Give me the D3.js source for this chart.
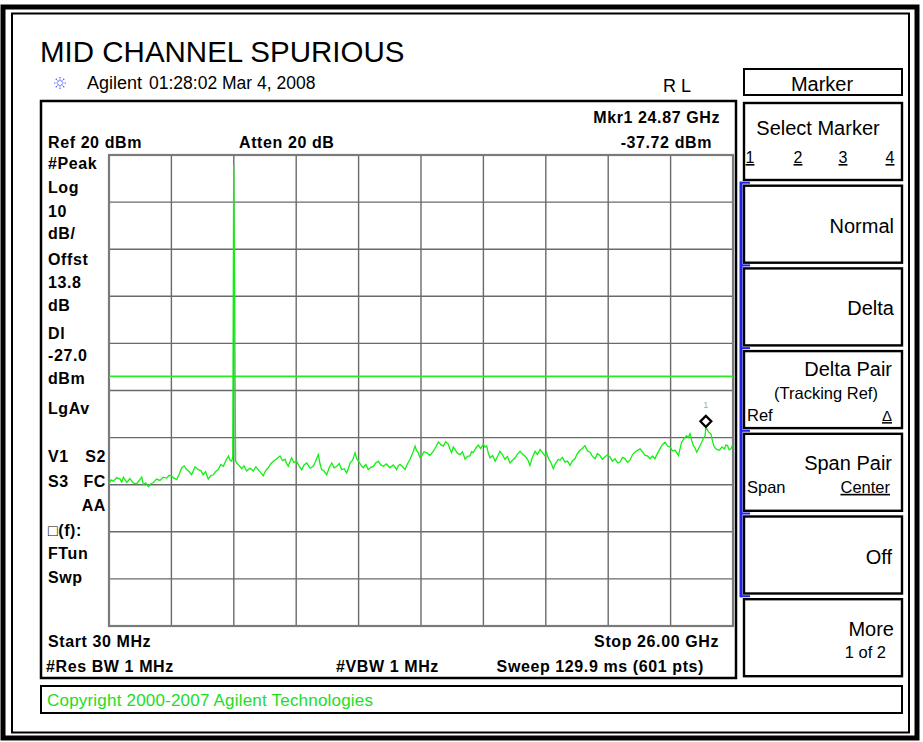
<!DOCTYPE html>
<html>
<head>
<meta charset="utf-8">
<script src="https://cdn.jsdelivr.net/npm/d3@7"></script>
<style>
  body { margin: 0; background: #fff; }
  svg { display: block; }
  text { font-family: "Liberation Sans", Arial, sans-serif; }
</style>
</head>
<body>
<div id="chart"></div>
<script>
// trace (GHz, dBm)
const traceFreqGHz = [
    0.03, 0.12, 0.21, 0.35, 0.49, 0.56, 0.63, 0.70, 0.77, 0.90,
    1.04, 1.18, 1.32, 1.39, 1.46, 1.56, 1.67, 1.77, 1.87, 2.01,
    2.15, 2.29, 2.43, 2.53, 2.64, 2.74, 2.85, 2.95, 3.06, 3.16,
    3.26, 3.36, 3.47, 3.61, 3.75, 3.85, 3.95, 4.05, 4.16, 4.26,
    4.37, 4.47, 4.58, 4.68, 4.79, 4.90, 5.00, 5.07, 5.14, 5.18,
    5.22, 5.26, 5.30, 5.34, 5.44, 5.55, 5.65, 5.76, 5.90, 6.04,
    6.14, 6.24, 6.35, 6.45, 6.55, 6.66, 6.76, 6.87, 7.01, 7.15,
    7.25, 7.36, 7.42, 7.49, 7.56, 7.63, 7.73, 7.84, 7.94, 8.05,
    8.15, 8.26, 8.40, 8.53, 8.63, 8.74, 8.81, 8.88, 8.98, 9.09,
    9.20, 9.30, 9.40, 9.51, 9.61, 9.71, 9.82, 9.92, 9.99, 10.06,
    10.17, 10.27, 10.34, 10.41, 10.51, 10.61, 10.72, 10.82, 10.92, 11.03,
    11.13, 11.24, 11.34, 11.45, 11.58, 11.72, 11.86, 12.00, 12.07, 12.14,
    12.25, 12.35, 12.45, 12.56, 12.66, 12.77, 12.83, 12.90, 12.97, 13.04,
    13.14, 13.25, 13.39, 13.53, 13.63, 13.74, 13.84, 13.94, 14.04, 14.15,
    14.22, 14.29, 14.36, 14.43, 14.53, 14.64, 14.74, 14.85, 14.95, 15.05,
    15.12, 15.19, 15.30, 15.40, 15.50, 15.61, 15.68, 15.75, 15.82, 15.89,
    16.00, 16.10, 16.20, 16.30, 16.40, 16.51, 16.61, 16.72, 16.82, 16.93,
    17.03, 17.14, 17.24, 17.34, 17.45, 17.55, 17.65, 17.76, 17.86, 17.97,
    18.07, 18.18, 18.24, 18.31, 18.42, 18.52, 18.62, 18.73, 18.80, 18.90,
    19.01, 19.11, 19.22, 19.32, 19.42, 19.52, 19.63, 19.73, 19.84, 19.94,
    20.05, 20.15, 20.26, 20.36, 20.46, 20.56, 20.67, 20.78, 20.88, 20.98,
    21.09, 21.20, 21.30, 21.40, 21.51, 21.61, 21.71, 21.82, 21.92, 22.02,
    22.13, 22.23, 22.34, 22.44, 22.55, 22.65, 22.75, 22.85, 22.96, 23.06,
    23.17, 23.28, 23.38, 23.48, 23.59, 23.66, 23.73, 23.80, 23.86, 23.96,
    24.07, 24.14, 24.21, 24.28, 24.35, 24.42, 24.49, 24.60, 24.70, 24.77,
    24.84, 24.87, 24.98, 25.08, 25.15, 25.22, 25.32, 25.43, 25.54, 25.64,
    25.70, 25.77, 25.84, 25.91, 25.96, 26.00];
const traceLevelDbm = [
    -49.8, -49.0, -49.3, -48.5, -48.8, -49.4, -48.4, -49.0, -49.5, -48.7,
    -49.6, -49.8, -48.9, -48.4, -50.0, -49.6, -50.4, -49.8, -49.6, -48.8,
    -49.1, -48.4, -48.6, -48.0, -48.2, -48.6, -48.9, -47.8, -46.4, -46.0,
    -46.8, -47.2, -47.9, -46.2, -46.8, -47.0, -47.9, -47.2, -48.8, -48.1,
    -47.9, -47.2, -46.8, -45.7, -46.1, -44.8, -43.9, -44.8, -45.0, -44.0,
    17.9, -11.2, -45.0, -45.4, -45.9, -46.6, -46.0, -47.1, -46.5, -47.1,
    -46.2, -46.8, -47.5, -48.1, -47.0, -46.4, -45.6, -45.0, -44.5, -43.9,
    -44.9, -44.6, -45.5, -46.1, -45.2, -44.3, -45.3, -45.0, -46.0, -46.8,
    -45.8, -45.4, -46.5, -46.1, -45.0, -43.6, -45.5, -46.8, -47.1, -47.9,
    -46.3, -45.4, -46.4, -46.1, -45.5, -46.8, -46.6, -47.5, -46.6, -45.4,
    -44.8, -43.2, -44.5, -45.0, -45.8, -46.4, -45.7, -46.8, -46.3, -46.1,
    -45.4, -45.0, -45.8, -46.1, -45.6, -46.4, -45.8, -46.8, -46.0, -45.7,
    -46.2, -46.8, -45.6, -44.6, -43.4, -41.8, -42.8, -43.2, -44.2, -43.9,
    -43.0, -43.2, -43.8, -42.9, -42.0, -40.9, -41.5, -41.8, -40.9, -41.4,
    -42.4, -43.2, -42.0, -42.5, -43.3, -43.6, -43.0, -44.6, -44.0, -43.9,
    -43.0, -43.2, -42.2, -41.6, -42.3, -41.4, -42.0, -41.8, -43.4, -44.3,
    -43.8, -45.0, -44.0, -42.9, -43.6, -44.6, -44.0, -45.4, -44.8, -44.3,
    -43.5, -42.9, -43.5, -43.9, -44.6, -45.9, -44.2, -42.9, -43.6, -42.5,
    -43.2, -43.9, -43.2, -44.3, -45.3, -46.6, -45.4, -44.6, -44.8, -44.2,
    -45.2, -45.0, -45.9, -44.9, -44.5, -43.4, -42.7, -42.3, -41.7, -42.8,
    -43.1, -44.0, -44.5, -43.4, -43.8, -44.6, -44.1, -43.6, -44.1, -45.0,
    -44.5, -45.4, -45.2, -44.2, -44.5, -45.3, -44.8, -43.6, -43.1, -42.7,
    -42.4, -43.0, -43.8, -43.9, -44.5, -43.9, -44.5, -43.4, -42.4, -41.5,
    -41.0, -41.8, -42.0, -42.8, -42.7, -43.2, -43.8, -42.3, -41.0, -40.2,
    -39.6, -40.0, -39.2, -40.6, -41.7, -42.2, -43.1, -42.0, -41.0, -40.1,
    -39.6, -37.72, -38.8, -39.2, -40.8, -42.0, -42.5, -42.7, -42.0, -42.4,
    -41.6, -41.7, -42.6, -42.4, -41.8, -42.0];

const startFreqGHz = 0.03;
const stopFreqGHz = 26.00;
const refLevelDbm = 20;
const dbPerDiv = 10;
const displayLineDbm = -27.0;
const markerFreqGHz = 24.87;
const markerLevelDbm = -37.72;

const leftLabels = ["#Peak", "Log", "10", "dB/", "Offst", "13.8", "dB", "Dl", "-27.0", "dBm", "LgAv"];
const leftLabelY = [169, 193, 217, 239, 265, 288, 311, 339, 361, 384, 414];
const statusRows = [["V1", "S2", 462], ["S3", "FC", 487], ["", "AA", 511]];
const lowerLabels = ["\u25A1(f):", "FTun", "Swp"];
const lowerLabelY = [536, 559, 583];

const softkeys = ["Select Marker", "Normal", "Delta", "Delta Pair", "Span Pair", "Off", "More"];

const W = 923, H = 742;
const svg = d3.select("#chart").append("svg").attr("width", W).attr("height", H);

// outer double frame
svg.append("rect").attr("x", 3).attr("y", 7).attr("width", 914).attr("height", 731)
    .attr("fill", "none").attr("stroke", "#000").attr("stroke-width", 5);
svg.append("rect").attr("x", 12).attr("y", 13.5).attr("width", 897).attr("height", 719)
    .attr("fill", "none").attr("stroke", "#000").attr("stroke-width", 2);

// title + header
svg.append("text").attr("x", 40).attr("y", 62).attr("font-size", 29.5).text("MID CHANNEL SPURIOUS");

// little agilent spark
const spark = svg.append("g").attr("transform", "translate(60,83)");
d3.range(8).forEach(i => {
    let a = i * Math.PI / 4;
    spark.append("line").attr("x1", Math.cos(a) * 2).attr("y1", Math.sin(a) * 2)
        .attr("x2", Math.cos(a) * 6.5).attr("y2", Math.sin(a) * 6.5)
        .attr("stroke", "#5060ff").attr("stroke-width", 1.2).attr("stroke-dasharray", "1.5,1");
});
svg.append("text").attr("x", 87).attr("y", 89).attr("font-size", 18).text("Agilent");
svg.append("text").attr("x", 149).attr("y", 89).attr("font-size", 17.5).text("01:28:02  Mar 4, 2008");
svg.append("text").attr("x", 663).attr("y", 92).attr("font-size", 18).text("R L");

// plot panel
svg.append("rect").attr("x", 41).attr("y", 101).attr("width", 695).attr("height", 577)
    .attr("fill", "#fff").attr("stroke", "#000").attr("stroke-width", 2.5);

const x = d3.scaleLinear().domain([startFreqGHz, stopFreqGHz]).range([109, 733]);
const y = d3.scaleLinear().domain([refLevelDbm - 10 * dbPerDiv, refLevelDbm]).range([626, 155]);

const bold = (sel) => sel.attr("font-size", 16).attr("font-weight", "bold").attr("letter-spacing", 0.6);

bold(svg.append("text").attr("x", 48).attr("y", 148).text("Ref 20 dBm"));
bold(svg.append("text").attr("x", 239).attr("y", 148).text("Atten 20 dB"));
bold(svg.append("text").attr("x", 720).attr("y", 123).attr("text-anchor", "end").text("Mkr1  24.87 GHz"));
bold(svg.append("text").attr("x", 712).attr("y", 148).attr("text-anchor", "end").text("-37.72 dBm"));

leftLabels.forEach((t, i) => bold(svg.append("text").attr("x", 48).attr("y", leftLabelY[i]).text(t)));
statusRows.forEach(r => {
    bold(svg.append("text").attr("x", 48).attr("y", r[2]).text(r[0]));
    bold(svg.append("text").attr("x", 106).attr("y", r[2]).attr("text-anchor", "end").attr("letter-spacing", 0).text(r[1]));
});
lowerLabels.forEach((t, i) => bold(svg.append("text").attr("x", 48).attr("y", lowerLabelY[i]).text(t)));

// graticule, 10 x 10 divisions
const xDivs = d3.range(11).map(i => startFreqGHz + i * (stopFreqGHz - startFreqGHz) / 10);
const yDivs = d3.range(11).map(i => refLevelDbm - i * dbPerDiv);
const grid = svg.append("g");
grid.selectAll(".vx").data(xDivs).join("line")
    .attr("x1", d => x(d)).attr("x2", d => x(d)).attr("y1", y(refLevelDbm)).attr("y2", y(refLevelDbm - 100))
    .attr("stroke", "#6a6a6a").attr("stroke-width", 1.4);
grid.selectAll(".hy").data(yDivs).join("line")
    .attr("y1", d => y(d)).attr("y2", d => y(d)).attr("x1", x(startFreqGHz)).attr("x2", x(stopFreqGHz))
    .attr("stroke", "#6a6a6a").attr("stroke-width", 1.4);
grid.append("rect").attr("x", x(startFreqGHz)).attr("y", y(refLevelDbm))
    .attr("width", x(stopFreqGHz) - x(startFreqGHz)).attr("height", y(refLevelDbm - 100) - y(refLevelDbm))
    .attr("fill", "none").attr("stroke", "#7a7a7a").attr("stroke-width", 2.2);

// display line
svg.append("line").attr("x1", x(startFreqGHz)).attr("x2", x(stopFreqGHz))
    .attr("y1", y(displayLineDbm)).attr("y2", y(displayLineDbm))
    .attr("stroke", "#22ee22").attr("stroke-width", 1.6);

// trace
const trace = traceFreqGHz.map((f, i) => ({f: f, v: traceLevelDbm[i]}));
svg.append("path").datum(trace)
    .attr("d", d3.line().x(d => x(d.f)).y(d => y(d.v)))
    .attr("fill", "none").attr("stroke", "#11f011").attr("stroke-width", 1.3);

// marker
const mx = x(markerFreqGHz), my = y(markerLevelDbm);
svg.append("path").attr("d", `M${mx},${my - 11} L${mx + 5.5},${my - 5.5} L${mx},${my} L${mx - 5.5},${my - 5.5} Z`)
    .attr("fill", "#fff").attr("stroke", "#000").attr("stroke-width", 2.2);
svg.append("text").attr("x", mx).attr("y", my - 19).attr("text-anchor", "middle")
    .attr("font-size", 9).attr("fill", "#aaa").text("1");

// bottom annotation
bold(svg.append("text").attr("x", 48).attr("y", 647).text("Start 30 MHz"));
bold(svg.append("text").attr("x", 719).attr("y", 647).attr("text-anchor", "end").text("Stop 26.00 GHz"));
bold(svg.append("text").attr("x", 46).attr("y", 672).text("#Res BW 1 MHz"));
bold(svg.append("text").attr("x", 336).attr("y", 672).text("#VBW 1 MHz"));
bold(svg.append("text").attr("x", 704).attr("y", 672).attr("text-anchor", "end").text("Sweep 129.9 ms (601 pts)"));

// copyright strip
svg.append("rect").attr("x", 41).attr("y", 686).attr("width", 861).attr("height", 27)
    .attr("fill", "#fff").attr("stroke", "#000").attr("stroke-width", 2);
svg.append("text").attr("x", 47).attr("y", 706).attr("font-size", 17).attr("letter-spacing", 0.2)
    .attr("fill", "#22dd22").text("Copyright 2000-2007 Agilent Technologies");

// softkey panel
svg.append("rect").attr("x", 744).attr("y", 69).attr("width", 158).attr("height", 26)
    .attr("fill", "#fff").attr("stroke", "#000").attr("stroke-width", 2);
svg.append("text").attr("x", 822).attr("y", 91).attr("text-anchor", "middle").attr("font-size", 20).text("Marker");

const keyTop = d3.range(softkeys.length).map(i => 103 + i * 82.7);
svg.append("line").attr("x1", 741).attr("x2", 741).attr("y1", keyTop[1] - 4).attr("y2", keyTop[6] - 2)
    .attr("stroke", "#2222ee").attr("stroke-width", 3);
keyTop.slice(1).forEach(t => {
    svg.append("line").attr("x1", 740).attr("x2", 750).attr("y1", t - 3).attr("y2", t - 3)
        .attr("stroke", "#2222ee").attr("stroke-width", 2);
});
keyTop.forEach(t => {
    svg.append("rect").attr("x", 744).attr("y", t).attr("width", 158).attr("height", 77)
        .attr("fill", "#fff").attr("stroke", "#000").attr("stroke-width", 2.4);
});

const key = (txt, xx, yy, size, anchor) => svg.append("text").attr("x", xx).attr("y", yy)
    .attr("font-size", size).attr("text-anchor", anchor).text(txt);

key(softkeys[0], 818, keyTop[0] + 32, 20, "middle");
[["1", 750], ["2", 798], ["3", 843], ["4", 890]].forEach(d => {
    key(d[0], d[1], keyTop[0] + 60, 16, "middle").attr("text-decoration", "underline");
});
key(softkeys[1], 894, keyTop[1] + 47, 20, "end");
key(softkeys[2], 894, keyTop[2] + 47, 20, "end");
key(softkeys[3], 892, keyTop[3] + 25, 20, "end");
key("(Tracking Ref)", 826, keyTop[3] + 48, 16.5, "middle");
key("Ref", 747, keyTop[3] + 70, 16.5, "start");
key("\u0394", 892, keyTop[3] + 70, 15, "end").attr("text-decoration", "underline");
key(softkeys[4], 892, keyTop[4] + 36, 20, "end");
key("Span", 747, keyTop[4] + 59, 16.5, "start");
key("Center", 890, keyTop[4] + 59, 16.5, "end").attr("text-decoration", "underline");
key(softkeys[5], 892, keyTop[5] + 47, 20, "end");
key(softkeys[6], 894, keyTop[6] + 37, 20, "end");
key("1 of 2", 886, keyTop[6] + 59, 16.5, "end");
</script>
</body>
</html>
